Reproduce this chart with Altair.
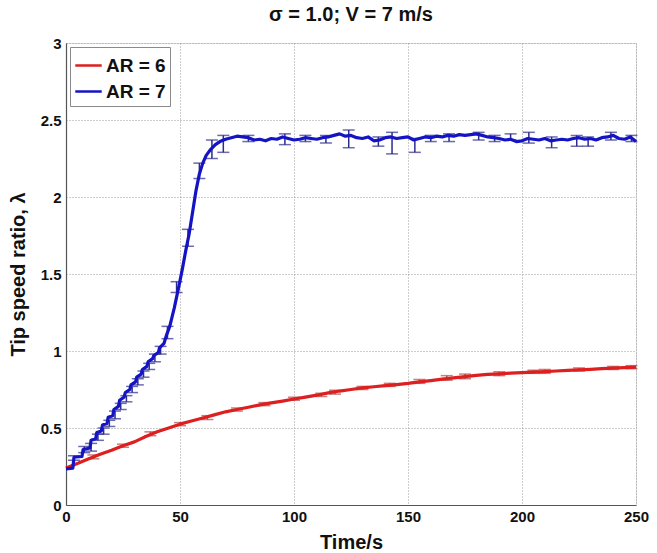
import altair as alt
import pandas as pd

# ---------------- data ----------------
red_t = [0, 5, 10, 15, 20, 25, 30, 35, 40, 45, 50, 55, 60, 65, 70, 75, 80, 85, 90, 95,
         100, 105, 110, 115, 120, 125, 130, 135, 140, 145, 150, 155, 160, 165, 170, 175,
         180, 185, 190, 195, 200, 205, 210, 215, 220, 225, 230, 235, 240, 245, 250]
red_v = [0.24, 0.27, 0.30, 0.33, 0.355, 0.385, 0.41, 0.445, 0.475, 0.50, 0.525, 0.545,
         0.565, 0.585, 0.605, 0.62, 0.635, 0.65, 0.663, 0.675, 0.688, 0.70, 0.713, 0.728,
         0.74, 0.75, 0.76, 0.768, 0.775, 0.782, 0.79, 0.80, 0.808, 0.817, 0.826, 0.834,
         0.842, 0.848, 0.852, 0.856, 0.86, 0.863, 0.866, 0.87, 0.874, 0.877, 0.881, 0.885,
         0.889, 0.892, 0.895]

blue_t = [0, 3, 3.5, 7, 7.5, 10.5, 11, 13, 13.5, 15.5, 16, 18, 18.5, 20.5, 21, 23, 23.5,
          25.5, 26, 28, 28.5, 30.5, 31, 33, 33.5, 35.5, 36, 38, 38.5, 40.5, 41, 43, 44,
          45.5, 47.5, 49.5, 51, 52.5, 54, 55.5, 57, 58.5, 60, 61.5, 63.5, 65.5, 67.5, 70,
          72.5, 75, 77.5, 80,
          82.5, 85, 87.5, 90, 92.5, 95, 97.5, 100, 102.5, 105, 107.5, 110, 112.5, 115,
          117.5, 120, 122.5, 125, 127.5, 130, 132.5, 135, 137.5, 140, 142.5, 145, 147.5,
          150, 152.5, 155, 157.5, 160, 162.5, 165, 167.5, 170, 172.5, 175, 177.5, 180,
          182.5, 185, 187.5, 190, 192.5, 195, 197.5, 200, 202.5, 205, 207.5, 210, 212.5,
          215, 217.5, 220, 222.5, 225, 227.5, 230, 232.5, 235, 237.5, 240, 242.5, 245,
          247.5, 250]
blue_v = [0.235, 0.24, 0.31, 0.315, 0.36, 0.37, 0.42, 0.43, 0.47, 0.48, 0.52, 0.53, 0.57,
          0.58, 0.62, 0.64, 0.68, 0.70, 0.73, 0.75, 0.78, 0.80, 0.83, 0.85, 0.88, 0.90,
          0.93, 0.95, 0.97, 0.99, 1.02, 1.05, 1.10, 1.16, 1.28, 1.42, 1.53, 1.65, 1.76,
          1.90, 2.04, 2.15, 2.22, 2.27, 2.31, 2.34, 2.36, 2.375, 2.385, 2.395, 2.39, 2.385,
          2.37, 2.375, 2.365, 2.38, 2.375, 2.39, 2.38, 2.37, 2.375, 2.385, 2.38, 2.375,
          2.385, 2.39, 2.40, 2.41, 2.395, 2.40, 2.385, 2.38, 2.39, 2.365, 2.37, 2.385,
          2.39, 2.38, 2.385, 2.39, 2.37, 2.38, 2.39, 2.385, 2.395, 2.39, 2.40, 2.395,
          2.405, 2.40, 2.405, 2.41, 2.40, 2.39, 2.385, 2.38, 2.37, 2.375, 2.36, 2.365,
          2.38, 2.375, 2.37, 2.38, 2.365, 2.37, 2.375, 2.37, 2.38, 2.385, 2.375, 2.38,
          2.37, 2.385, 2.39, 2.40, 2.38, 2.375, 2.39, 2.36]

# error bars (time, low, high)
blue_err_t = [3.5, 8, 11, 14, 16.5, 19, 21.5, 24, 26.5, 29, 31.5, 34, 36.5, 39, 41.5,
              44.5, 48.5, 53.5, 58.5, 64, 69, 80, 96, 105, 114, 124, 137, 143, 153, 160,
              168, 181, 188, 195, 203, 213, 224, 229, 239, 248]
blue_err_lo = [0.29, 0.34, 0.35, 0.42, 0.46, 0.51, 0.56, 0.62, 0.67, 0.73, 0.78, 0.83,
               0.88, 0.93, 0.98, 1.08, 1.38, 1.68, 2.12, 2.25, 2.29, 2.36, 2.34, 2.36,
               2.35, 2.32, 2.33, 2.28, 2.29, 2.36, 2.36, 2.37, 2.36, 2.37, 2.35, 2.32,
               2.33, 2.33, 2.37, 2.36]
blue_err_hi = [0.32, 0.38, 0.40, 0.46, 0.50, 0.55, 0.61, 0.66, 0.71, 0.77, 0.82, 0.87,
               0.92, 0.98, 1.03, 1.16, 1.45, 1.79, 2.22, 2.37, 2.40, 2.40, 2.41, 2.40,
               2.40, 2.435, 2.39, 2.42, 2.38, 2.40, 2.41, 2.42, 2.40, 2.41, 2.42, 2.39,
               2.40, 2.39, 2.42, 2.40]

red_err_t = [12, 25, 37, 50, 62, 75, 87, 100, 112, 118, 130, 142, 155, 167, 175, 190,
             205, 210, 225, 240, 248]
red_err_lo = [0.30, 0.375, 0.45, 0.515, 0.555, 0.61, 0.645, 0.68, 0.705, 0.72, 0.75,
              0.77, 0.79, 0.81, 0.82, 0.84, 0.855, 0.855, 0.87, 0.88, 0.885]
red_err_hi = [0.325, 0.395, 0.475, 0.535, 0.58, 0.63, 0.665, 0.70, 0.725, 0.745, 0.77,
              0.79, 0.815, 0.84, 0.85, 0.865, 0.875, 0.88, 0.89, 0.90, 0.905]

series_names = ["AR = 6", "AR = 7"]
line_colors = ["#dd1f1f", "#1414c4"]
err_colors = ["#b04848", "#2c2c8c"]

# ---------------- frames ----------------
lines = pd.concat([
    pd.DataFrame({"t": red_t, "v": red_v, "s": series_names[0], "i": range(len(red_t))}),
    pd.DataFrame({"t": blue_t, "v": blue_v, "s": series_names[1], "i": range(len(blue_t))}),
])
errs = pd.concat([
    pd.DataFrame({"t": red_err_t, "lo": red_err_lo, "hi": red_err_hi, "s": series_names[0]}),
    pd.DataFrame({"t": blue_err_t, "lo": blue_err_lo, "hi": blue_err_hi, "s": series_names[1]}),
])

FONT = "Liberation Sans"

xscale = alt.Scale(domain=[0, 250], nice=False)
yscale = alt.Scale(domain=[0, 3], nice=False)

xaxis = alt.Axis(values=[0, 50, 100, 150, 200, 250], title="Time/s", grid=True,
                 gridDash=[1, 2], gridColor="#9a9a9a", gridWidth=1, ticks=False,
                 domainColor="#555555", domainWidth=1.2, labelFont=FONT,
                 labelFontSize=15, labelFontWeight="bold", labelColor="#111111",
                 labelFlush=False, labelOverlap=False, labelPadding=4,
                 titleFont=FONT, titleFontSize=20, titleFontWeight="bold",
                 titleColor="#111111", titlePadding=8)
yaxis = alt.Axis(values=[0, 0.5, 1, 1.5, 2, 2.5, 3], format=".1~f",
                 title="Tip speed ratio, λ", grid=True, gridDash=[1, 2],
                 gridColor="#9a9a9a", gridWidth=1, ticks=False, domainColor="#555555",
                 domainWidth=1.2, labelFont=FONT, labelFontSize=15,
                 labelFontWeight="bold", labelColor="#111111", labelFlush=False,
                 labelOverlap=False, labelPadding=5, titleFont=FONT, titleFontSize=20,
                 titleFontWeight="bold", titleColor="#111111", titlePadding=12)

color_line = alt.Color("s:N", scale=alt.Scale(domain=series_names, range=line_colors),
                       legend=alt.Legend(title=None, orient="top-left", offset=4,
                                         symbolType="stroke", symbolSize=700,
                                         symbolStrokeWidth=2.5, labelFont=FONT,
                                         labelFontSize=19, labelFontWeight="bold",
                                         labelColor="#111111", labelOffset=3,
                                         strokeColor="#8a8a8a", fillColor="white",
                                         padding=4, rowPadding=1, labelLimit=200))
color_err = alt.Color("s:N", scale=alt.Scale(domain=series_names, range=err_colors),
                      legend=None)

base_line = alt.Chart(lines).mark_line(strokeWidth=3.2, strokeJoin="round").encode(
    x=alt.X("t:Q", scale=xscale, axis=xaxis),
    y=alt.Y("v:Q", scale=yscale, axis=yaxis),
    color=color_line,
    order="i:Q",
    detail="s:N",
)

err_rule = alt.Chart(errs).mark_rule(strokeWidth=1.5).encode(
    x=alt.X("t:Q", scale=xscale),
    y=alt.Y("lo:Q", scale=yscale),
    y2="hi:Q",
    color=color_err,
)
cap_lo = alt.Chart(errs).mark_tick(orient="horizontal", size=12, thickness=1.5).encode(
    x=alt.X("t:Q", scale=xscale),
    y=alt.Y("lo:Q", scale=yscale),
    color=color_err,
)
cap_hi = alt.Chart(errs).mark_tick(orient="horizontal", size=12, thickness=1.5).encode(
    x=alt.X("t:Q", scale=xscale),
    y=alt.Y("hi:Q", scale=yscale),
    color=color_err,
)

chart = alt.layer(err_rule, cap_lo, cap_hi, base_line).resolve_scale(
    color="independent"
).properties(
    width=570,
    height=462,
    title=alt.TitleParams("σ = 1.0; V = 7 m/s", font=FONT, fontSize=20,
                          fontWeight="bold", color="#111111", anchor="middle",
                          baseline="bottom", offset=-9),
    autosize=alt.AutoSizeParams(type="none"),
    padding={"left": 66, "top": 43, "right": 21, "bottom": 48},
).configure_view(stroke=None).configure(background="white")

chart.save("out.html", embed_options={"renderer": "svg", "actions": False})
